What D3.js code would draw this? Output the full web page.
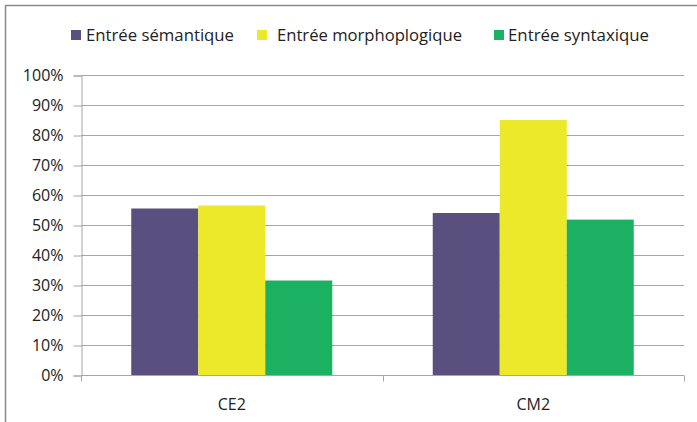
<!DOCTYPE html>
<html>
<head>
<meta charset="utf-8">
<script src="https://cdn.jsdelivr.net/npm/d3@7"></script>
<style>
  html, body { margin: 0; padding: 0; background: #fff; }
  svg { display: block; }
  text { font-family: "Open Sans", "Noto Sans", sans-serif; fill: #222; }
</style>
</head>
<body>
<svg id="chart" width="697" height="422"></svg>
<script>
const categories = ["CE2", "CM2"];
const seriesNames = ["Entrée sémantique", "Entrée morphoplogique", "Entrée syntaxique"];
const seriesColors = ["#5a5080", "#ece92b", "#1cb162"];
const semantique = [0.555, 0.54];
const morphologique = [0.565, 0.85];
const syntaxique = [0.315, 0.518];
const yTicks = [0, 0.1, 0.2, 0.3, 0.4, 0.5, 0.6, 0.7, 0.8, 0.9, 1.0];

(function () {
const seriesValues = [semantique, morphologique, syntaxique];
const svg = d3.select("#chart");

// outer frame (clipped at right/bottom as in the reference)
svg.append("path")
  .attr("d", "M5.5,422 V5.5 H697")
  .attr("fill", "none").attr("stroke", "#8a8a8a").attr("stroke-width", 1.5);

const pLeft = 81, pRight = 684, pTop = 75, pBottom = 375;
const x = d3.scaleBand().domain(categories).range([pLeft, pRight]).padding(0);
const xs = d3.scaleBand().domain(seriesNames).range([0, x.bandwidth()]).paddingInner(0).paddingOuter(0.75);
const y = d3.scaleLinear().domain([0, 1]).range([pBottom, pTop]);

// gridlines
svg.append("g").selectAll("line").data(yTicks.slice(1)).join("line")
  .attr("x1", pLeft).attr("x2", pRight)
  .attr("y1", d => Math.round(y(d)) + 0.5).attr("y2", d => Math.round(y(d)) + 0.5)
  .attr("stroke", "#a3a7a8").attr("stroke-width", 1);

// bars
const groups = svg.append("g").selectAll("g").data(categories).join("g")
  .attr("transform", c => `translate(${x(c)},0)`);
groups.selectAll("rect")
  .data((c, ci) => seriesNames.map((s, si) => ({ s, si, v: seriesValues[si][ci] })))
  .join("rect")
  .attr("x", d => xs(d.s))
  .attr("width", xs.bandwidth())
  .attr("y", d => y(d.v))
  .attr("height", d => y(0) - y(d.v))
  .attr("fill", d => seriesColors[d.si]);

// y axis
const yAxis = d3.axisLeft(y).tickValues(yTicks).tickFormat(d3.format(".0%")).tickSize(8).tickPadding(10);
const ya = svg.append("g").attr("transform", `translate(${pLeft + 0.5},0.5)`).call(yAxis);
ya.select(".domain").attr("stroke", "#a3a7a8");
ya.selectAll(".tick line").attr("stroke", "#a3a7a8");
ya.selectAll(".tick text").attr("font-size", 16).attr("fill", "#222")
  .attr("font-family", "'Open Sans', 'Noto Sans', sans-serif").attr("dy", "0.34em");

// x axis
const xa = svg.append("g").attr("transform", `translate(0,${pBottom + 0.5})`);
xa.append("line").attr("x1", pLeft).attr("x2", pRight).attr("stroke", "#a3a7a8");
const boundaries = [pLeft, x("CM2"), pRight];
xa.selectAll("line.tk").data(boundaries).join("line").attr("class", "tk")
  .attr("x1", d => Math.round(d) + 0.5).attr("x2", d => Math.round(d) + 0.5)
  .attr("y1", 0).attr("y2", 6).attr("stroke", "#a3a7a8");
xa.selectAll("text").data(categories).join("text")
  .attr("x", c => x(c) + x.bandwidth() / 2).attr("y", 34)
  .attr("text-anchor", "middle").attr("font-size", 16).text(c => c);

// legend
const legendItems = [
  { sq: 71, tx: 86, w: 148 },
  { sq: 257, tx: 277, w: 185 },
  { sq: 494, tx: 508, w: 141 }
];
const lg = svg.append("g");
seriesNames.forEach((s, i) => {
  lg.append("rect").attr("x", legendItems[i].sq).attr("y", 30).attr("width", 10).attr("height", 10)
    .attr("fill", seriesColors[i]);
  lg.append("text").attr("x", legendItems[i].tx).attr("y", 35).attr("dy", "0.35em")
    .attr("font-size", 16).attr("textLength", legendItems[i].w).attr("lengthAdjust", "spacingAndGlyphs")
    .text(s);
});
})();
</script>
</body>
</html>
